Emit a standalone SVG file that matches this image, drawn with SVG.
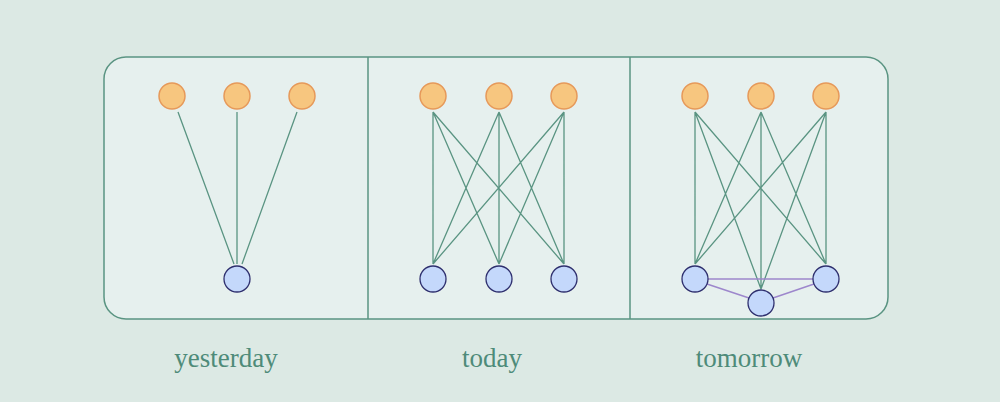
<svg xmlns="http://www.w3.org/2000/svg" width="1000" height="402" viewBox="0 0 1000 402">
<style>
.top{fill:#f7c67f;stroke:#e6995a;stroke-width:1.5}
.bot{fill:#c4d8fb;stroke:#2e2f6e;stroke-width:1.3}
.e{stroke:#5a9482;stroke-width:1.3;fill:none}
.p{stroke:#9d87cc;stroke-width:1.5;fill:none}
.lbl{font-family:"Liberation Serif",serif;font-size:27px;fill:#4e8b79;text-anchor:middle}
</style>
<rect width="1000" height="402" fill="#dce9e4"/>
<g id="frame">
<rect x="104" y="57" width="784" height="262" rx="22" fill="#e6f0ee" stroke="#5a9482" stroke-width="1.5"/>
<line x1="368" y1="57" x2="368" y2="319" stroke="#5a9482" stroke-width="1.5"/>
<line x1="630" y1="57" x2="630" y2="319" stroke="#5a9482" stroke-width="1.5"/>
</g>
<g id="connectors">
<path class="e" d="M178 112L234 264M237 112L237 264M297 112L242 264"/>
<path class="e" d="M433 112L433 264M433 112L499 264M433 112L564 264M499 112L433 264M499 112L499 264M499 112L564 264M564 112L433 264M564 112L499 264M564 112L564 264"/>
<path class="e" d="M695 112L695 264M695 112L761 289M695 112L826 264M761 112L695 264M761 112L761 289M761 112L826 264M826 112L695 264M826 112L761 289M826 112L826 264"/>
<path class="p" d="M708 279L813 279M707 284L749 298M773 298L814 284"/>
</g>
<g id="n1"><circle class="top" cx="172" cy="96" r="13"/></g>
<g id="n2"><circle class="top" cx="237" cy="96" r="13"/></g>
<g id="n3"><circle class="top" cx="302" cy="96" r="13"/></g>
<g id="n4"><circle class="bot" cx="237" cy="279" r="13"/></g>
<g id="n5"><circle class="top" cx="433" cy="96" r="13"/></g>
<g id="n6"><circle class="top" cx="499" cy="96" r="13"/></g>
<g id="n7"><circle class="top" cx="564" cy="96" r="13"/></g>
<g id="n8"><circle class="bot" cx="433" cy="279" r="13"/></g>
<g id="n9"><circle class="bot" cx="499" cy="279" r="13"/></g>
<g id="n10"><circle class="bot" cx="564" cy="279" r="13"/></g>
<g id="n11"><circle class="top" cx="695" cy="96" r="13"/></g>
<g id="n12"><circle class="top" cx="761" cy="96" r="13"/></g>
<g id="n13"><circle class="top" cx="826" cy="96" r="13"/></g>
<g id="n14"><circle class="bot" cx="695" cy="279" r="13"/></g>
<g id="n15"><circle class="bot" cx="761" cy="303" r="13"/></g>
<g id="n16"><circle class="bot" cx="826" cy="279" r="13"/></g>
<g id="labels">
<text class="lbl" x="226" y="367">yesterday</text>
<text class="lbl" x="492" y="367">today</text>
<text class="lbl" x="749" y="367">tomorrow</text>
</g>
</svg>
